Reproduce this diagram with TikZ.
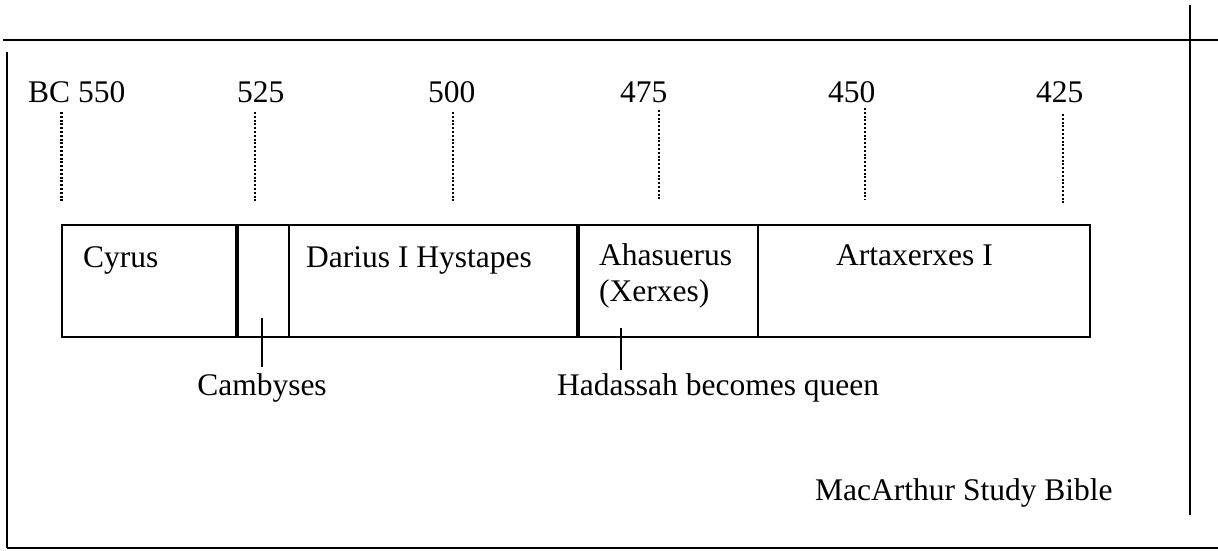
\documentclass[tikz,border=0pt]{standalone}
\usepackage{fontspec}
\setmainfont{Liberation Serif}
\begin{document}
\begin{tikzpicture}[x=1pt,y=-1pt,
  frameline/.style={line width=2pt},
  period/.style={draw,line width=2pt,inner sep=0pt,outer sep=0pt,anchor=north west,minimum height=112pt},
  lbl/.style={inner sep=0pt,anchor=base west,font=\fontsize{31.5}{36}\selectfont},
  tick/.style={line width=2.8pt,dash pattern=on 2pt off 1.8pt},
  pointer/.style={line width=1.5pt}]
\useasboundingbox (0,0) rectangle (1218,550);
% frame
\draw[frameline] (3,40) -- (1218,40);
\draw[frameline] (1190,5) -- (1190,515);
\draw[frameline] (7,52) -- (7,548);
\draw[frameline] (7,548) -- (1218,548);
% year labels
\node[lbl] (y550) at (28,102) {BC 550};
\node[lbl] (y525) at (237,102) {525};
\node[lbl] (y500) at (428,102) {500};
\node[lbl] (y475) at (620,102) {475};
\node[lbl] (y450) at (828,102) {450};
\node[lbl] (y425) at (1036,102) {425};
% ticks
\coordinate (t550a) at (61.5,112); \coordinate (t550b) at (61.5,203);
\coordinate (t525a) at (255,112);  \coordinate (t525b) at (255,203);
\coordinate (t500a) at (453,112);  \coordinate (t500b) at (453,203);
\coordinate (t475a) at (659,110);  \coordinate (t475b) at (659,200);
\coordinate (t450a) at (865,108);  \coordinate (t450b) at (865,200);
\coordinate (t425a) at (1063,114); \coordinate (t425b) at (1063,205);
\foreach \t in {550,525,500,475,450,425}{\draw[tick] (t\t a) -- (t\t b);}
% period boxes
\node[period,minimum width=174pt] (cyrus) at (62,225) {};
\node[period,minimum width=51pt] (camb) at (238,225) {};
\node[period,minimum width=288pt] (darius) at (289,225) {};
\node[period,minimum width=179pt] (ahas) at (579,225) {};
\node[period,minimum width=332pt] (artax) at (758,225) {};
% box texts
\node[lbl] (tcyrus) at (83,267) {Cyrus};
\node[lbl] (tdarius) at (306,267) {Darius I Hystapes};
\node[lbl] (tahas) at (599,265) {Ahasuerus};
\node[lbl] (txerx) at (599,301) {(Xerxes)};
\node[lbl] (tartax) at (836,265) {Artaxerxes I};
% callouts
\node[lbl,anchor=base] (tcamb) at (262,395) {Cambyses};
\node[lbl] (thad) at (557,395) {Hadassah becomes queen};
\coordinate (pcamb) at (262,318);
\coordinate (phad) at (621,328);
\draw[pointer] (pcamb) -- (pcamb |- 0,367);
\draw[pointer] (phad) -- (phad |- 0,370);
% source
\node[lbl] (src) at (815,500) {MacArthur Study Bible};
\end{tikzpicture}
\end{document}
